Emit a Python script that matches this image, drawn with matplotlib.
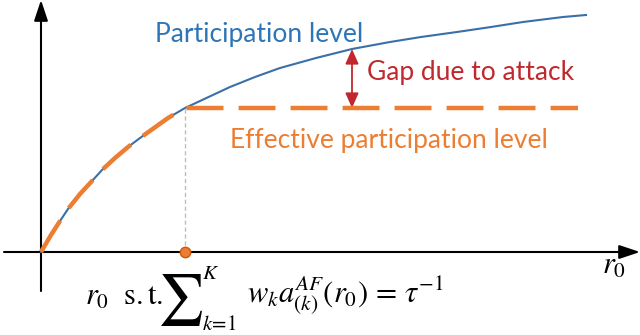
import matplotlib
matplotlib.use("Agg")
import matplotlib.pyplot as plt

# participation level curve, read as (r0, level) pairs in pixel-like units
curve_x = [0, 10, 19, 27, 39, 51, 61, 74, 87, 99, 113, 127, 144,
           189, 214, 239, 275, 311, 349, 380, 416, 450, 482, 522, 545]
curve_y = [0, 17, 31, 43, 58, 71, 82, 94, 105, 114, 124, 134, 144,
           165, 175, 184, 194, 203, 210, 215, 220, 225, 230, 235, 237]

# r0 where the effective level saturates, and where the flat line stops
r0_star = 144
flat_end = 537
gap_x = 311

BLUE = "#2e75b6"
LINE_BLUE = "#3a6fa8"
ORANGE = "#ed7d31"
RED = "#c0282d"

plt.rcParams["mathtext.fontset"] = "stix"

fig = plt.figure(figsize=(6.4, 3.35), dpi=100)
ax = fig.add_axes([0, 0, 1, 1])
ax.set_xlim(-41, 599)
ax.set_ylim(-83, 252)
ax.axis("off")

# axes with arrow heads
arrow_kw = dict(arrowstyle="-|>,head_length=0.9,head_width=0.3", color="black",
                lw=1.5, mutation_scale=14, shrinkA=0, shrinkB=0)
ax.annotate("", xy=(599, 0), xytext=(-37, 0), arrowprops=arrow_kw)
ax.annotate("", xy=(0, 252), xytext=(0, -39), arrowprops=arrow_kw)

# full participation curve
ax.plot(curve_x, curve_y, color=LINE_BLUE, lw=1.5, zorder=3,
        solid_joinstyle="round")

# effective participation: follows the curve, then stays flat
level = curve_y[curve_x.index(r0_star)]
eff_x = [x for x in curve_x if x <= r0_star] + [flat_end]
eff_y = [y for x, y in zip(curve_x, curve_y) if x <= r0_star] + [level]
ax.plot(eff_x, eff_y, color=ORANGE, lw=3.2, dashes=(8.3, 3.4),
        dash_capstyle="butt", zorder=4)

# guide from the saturation point down to the axis
ax.plot([r0_star, r0_star], [0, level], color="#bdbdbd", lw=1,
        linestyle=(0, (3, 2)), zorder=2)
ax.plot([r0_star], [0], "o", ms=7.5, mfc=ORANGE, mec="#c55a11", mew=1, zorder=5,
        clip_on=False)

# gap between the two levels
gap_top = curve_y[curve_x.index(gap_x)]
ax.annotate("", xy=(gap_x, gap_top), xytext=(gap_x, level),
            arrowprops=dict(arrowstyle="<|-|>,head_length=0.9,head_width=0.4",
                            color=RED, lw=1.3, mutation_scale=10,
                            shrinkA=0, shrinkB=0))

label_font = "Lato"
ax.text(114, 210, "Participation level", color=BLUE, fontsize=19,
        family=label_font, ha="left", va="baseline")
ax.text(326, 172, "Gap due to attack", color=RED, fontsize=19,
        family=label_font, ha="left", va="baseline")
ax.text(189, 104, "Effective participation level", color=ORANGE, fontsize=19,
        family=label_font, ha="left", va="baseline")

# axis label and the condition defining r0
ax.text(561, -22, r"$r_0$", fontsize=22, ha="left", va="baseline")
ax.text(44, -53, r"$r_0\ \ \mathrm{s.t.}$", fontsize=22, ha="left", va="baseline")
ax.text(116, -48, r"$\sum$", fontsize=37, ha="left", va="center")
ax.text(161, -11, r"$K$", fontsize=15, ha="left", va="top")
ax.text(161, -82, r"$k\!=\!1$", fontsize=15, ha="left", va="bottom")
ax.text(206, -51, r"$w_k a_{(k)}^{AF}(r_0)\,=\,\tau^{-1}$", fontsize=22,
        ha="left", va="baseline")

fig.savefig("out.png", dpi=100)
